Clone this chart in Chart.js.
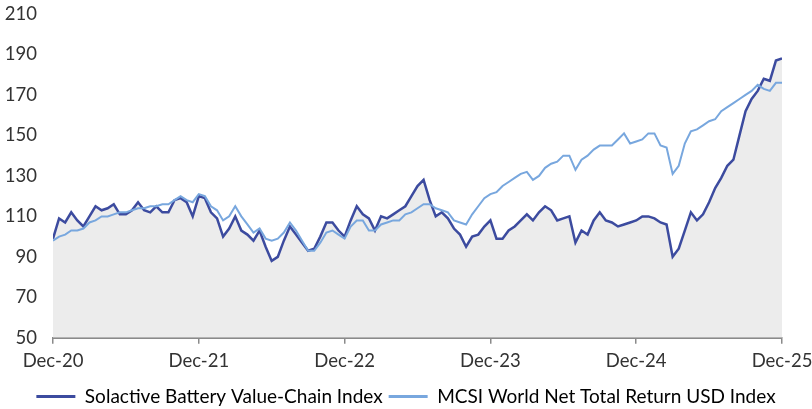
<!DOCTYPE html>
<html>
<head>
<meta charset="utf-8">
<script src="https://cdn.jsdelivr.net/npm/chart.js@4"></script>
<style>
  html, body { margin: 0; padding: 0; background: #fff; }
  #wrap { width: 812px; height: 409px; position: relative; }
</style>
</head>
<body>
<div id="wrap"><canvas id="indexChart"></canvas></div>
<script>
// x positions in months since Dec-20 (half-month steps)
const months = [];
for (let i = 0; i <= 120; i++) months.push(i / 2);

const tickLabels = ["Dec-20", "Dec-21", "Dec-22", "Dec-23", "Dec-24", "Dec-25"];

// Solactive Battery Value-Chain Index
const battery = [
  99, 109, 107, 112, 108, 105, 110, 115, 113, 114,
  116, 111, 111, 113, 117, 113, 112, 115, 112, 112,
  118, 119, 117, 110, 120, 119, 112, 109, 100, 104,
  110, 103, 101, 98, 103, 95, 88, 90, 98, 105,
  101, 97, 93, 94, 100, 107, 107, 103, 100, 108,
  115, 111, 109, 103, 110, 109, 111, 113, 115, 120,
  125, 128, 118, 110, 112, 109, 104, 101, 95, 100,
  101, 105, 108, 99, 99, 103, 105, 108, 111, 108,
  112, 115, 113, 108, 109, 110, 97, 103, 101, 108,
  112, 108, 107, 105, 106, 107, 108, 110, 110, 109,
  107, 106, 90, 94, 103, 112, 108, 111, 117, 124,
  129, 135, 138, 150, 162, 168, 172, 178, 177, 187,
  188
];

// MCSI World Net Total Return USD Index
const msci = [
  98, 100, 101, 103, 103, 104, 107, 108, 110, 110,
  111, 112, 112, 113, 114, 114, 115, 115, 116, 116,
  118, 120, 118, 117, 121, 120, 115, 113, 108, 110,
  115, 110, 106, 102, 104, 99, 98, 99, 102, 107,
  103, 98, 93, 93, 97, 102, 103, 101, 99, 105,
  108, 108, 103, 103, 106, 107, 108, 108, 111, 112,
  114, 116, 116, 114, 113, 112, 108, 107, 106, 111,
  115, 119, 121, 122, 125, 127, 129, 131, 132, 128,
  130, 134, 136, 137, 140, 140, 133, 138, 140, 143,
  145, 145, 145, 148, 151, 146, 147, 148, 151, 151,
  145, 144, 131, 135, 146, 152, 153, 155, 157, 158,
  162, 164, 166, 168, 170, 172, 175, 173, 172, 176,
  176
];

const seriesNames = ["Solactive Battery Value-Chain Index", "MCSI World Net Total Return USD Index"];
const darkBlue = "#3c4b9f";
const lightBlue = "#78a7de";
const textFont = { family: "Lato", size: 18.5 };

function toPoints(values) {
  return values.map((v, i) => ({ x: months[i], y: v }));
}

const ctx = document.getElementById("indexChart").getContext("2d");
const chart = new Chart(ctx, {
  type: "line",
  data: {
    datasets: [
      {
        label: seriesNames[0],
        data: toPoints(battery),
        borderColor: darkBlue,
        backgroundColor: "#ececec",
        borderWidth: 2.5,
        fill: "start",
        pointRadius: 0,
        tension: 0,
        order: 1,
      },
      {
        label: seriesNames[1],
        data: toPoints(msci),
        borderColor: lightBlue,
        backgroundColor: lightBlue,
        borderWidth: 2,
        fill: false,
        pointRadius: 0,
        tension: 0,
        order: 0,
      },
    ],
  },
  options: {
    responsive: true,
    maintainAspectRatio: false,
    animation: false,
    layout: { padding: { top: 0, right: 0, left: 0, bottom: -7 } },
    plugins: {
      filler: { drawTime: "beforeDatasetsDraw" },
      tooltip: { enabled: false },
      legend: {
        position: "bottom",
        labels: {
          color: "#333",
          font: { family: "Lato", size: 19 },
          boxWidth: 39,
          boxHeight: 3,
          padding: 6,
          generateLabels: (c) =>
            c.data.datasets.map((ds, i) => ({
              text: ds.label,
              fillStyle: ds.borderColor,
              strokeStyle: ds.borderColor,
              lineWidth: 0,
              datasetIndex: i,
            })),
        },
      },
    },
    scales: {
      x: {
        type: "linear",
        min: 0,
        max: 60,
        afterFit: (scale) => {
          scale.height += 3;
          scale.paddingLeft = 0;
          scale.paddingRight = 30;
        },
        ticks: {
          stepSize: 12,
          color: "#333",
          font: textFont,
          padding: 6,
          maxRotation: 0,
          callback: (v) => tickLabels[v / 12],
        },
        grid: {
          drawOnChartArea: false,
          color: "#8a8a8a",
          lineWidth: 1.5,
          tickLength: 6,
        },
        border: { color: "#8a8a8a", width: 2 },
      },
      y: {
        min: 50,
        max: 210,
        afterFit: (scale) => {
          scale.width = 53;
          scale.paddingTop = 14;
        },
        ticks: {
          stepSize: 20,
          color: "#333",
          font: textFont,
          padding: 8,
        },
        grid: { display: false },
        border: { display: false },
      },
    },
  },
});
</script>
</body>
</html>
